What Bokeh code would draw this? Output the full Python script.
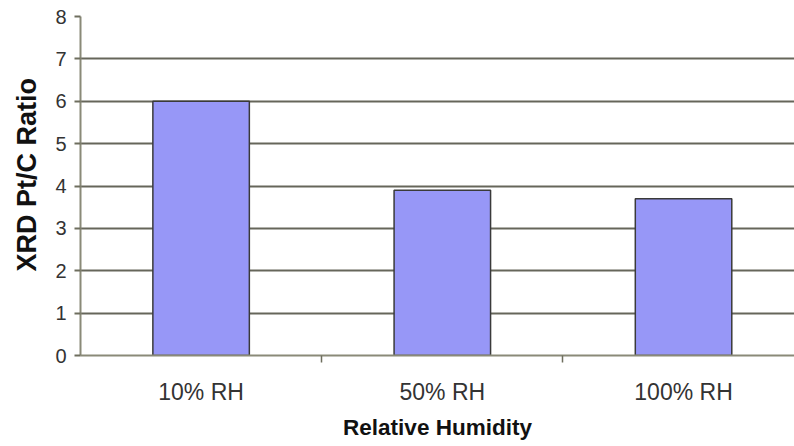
from bokeh.plotting import figure
from bokeh.models import ColumnDataSource, Range1d, FixedTicker
from bokeh.embed import file_html
from bokeh.resources import INLINE

categories = ["10% RH", "50% RH", "100% RH"]
ratios = [6.0, 3.9, 3.7]
y_ticks = [0, 1, 2, 3, 4, 5, 6, 7, 8]

xpos = [i + 0.5 for i in range(len(categories))]
src = ColumnDataSource(dict(x=xpos, top=ratios))

p = figure(width=794, height=446, output_backend="svg", toolbar_location=None,
           x_range=Range1d(0, 2.96), y_range=Range1d(0, 8),
           min_border_left=80, min_border_right=0, min_border_top=16, min_border_bottom=91)
p.outline_line_color = None
p.background_fill_color = "white"
p.border_fill_color = "white"

p.vbar(x="x", top="top", bottom=0, width=0.4, source=src,
       fill_color="#9797f7", line_color="#3a3a3a", line_width=1.5)

# X axis
p.xaxis.ticker = FixedTicker(ticks=xpos, minor_ticks=[1, 2])
p.xaxis.major_label_overrides = {x: c for x, c in zip(xpos, categories)}
p.xaxis.major_tick_line_color = None
p.xaxis.major_tick_out = 0
p.xaxis.major_tick_in = 0
p.xaxis.minor_tick_out = 7
p.xaxis.minor_tick_in = 0
p.xaxis.minor_tick_line_color = "#6e6e5e"
p.xaxis.minor_tick_line_width = 1.5
p.xaxis.axis_line_color = "#8a8a78"
p.xaxis.axis_line_width = 2
p.xaxis.major_label_text_font = "Liberation Sans"
p.xaxis.major_label_text_font_size = "23px"
p.xaxis.major_label_text_color = "#333333"
p.xaxis.major_label_standoff = 16
p.xaxis.axis_label = "Relative Humidity"
p.xaxis.axis_label_text_font = "Liberation Sans"
p.xaxis.axis_label_text_font_style = "bold"
p.xaxis.axis_label_text_font_size = "22.5px"
p.xaxis.axis_label_text_color = "#111111"
p.xaxis.axis_label_standoff = 7

# Y axis
p.yaxis.ticker = FixedTicker(ticks=y_ticks, minor_ticks=[])
p.yaxis.major_tick_out = 6
p.yaxis.major_tick_in = 0
p.yaxis.major_tick_line_color = "#6e6e5e"
p.yaxis.major_tick_line_width = 2
p.yaxis.axis_line_color = "#8a8a78"
p.yaxis.axis_line_width = 2
p.yaxis.major_label_text_font = "Liberation Sans"
p.yaxis.major_label_text_font_size = "20px"
p.yaxis.major_label_text_color = "#333333"
p.yaxis.major_label_standoff = 8
p.yaxis.axis_label = "\u00a0\u00a0\u00a0XRD Pt/C Ratio"
p.yaxis.axis_label_text_font = "Liberation Sans"
p.yaxis.axis_label_text_font_style = "bold"
p.yaxis.axis_label_text_font_size = "27px"
p.yaxis.axis_label_text_color = "#111111"
p.yaxis.axis_label_standoff = 10

p.xgrid.grid_line_color = None
p.ygrid.ticker = FixedTicker(ticks=y_ticks)
p.ygrid.grid_line_color = "#66665a"
p.ygrid.grid_line_width = 2
p.ygrid.level = "underlay"

open("out.html", "w").write(file_html(p, INLINE))
